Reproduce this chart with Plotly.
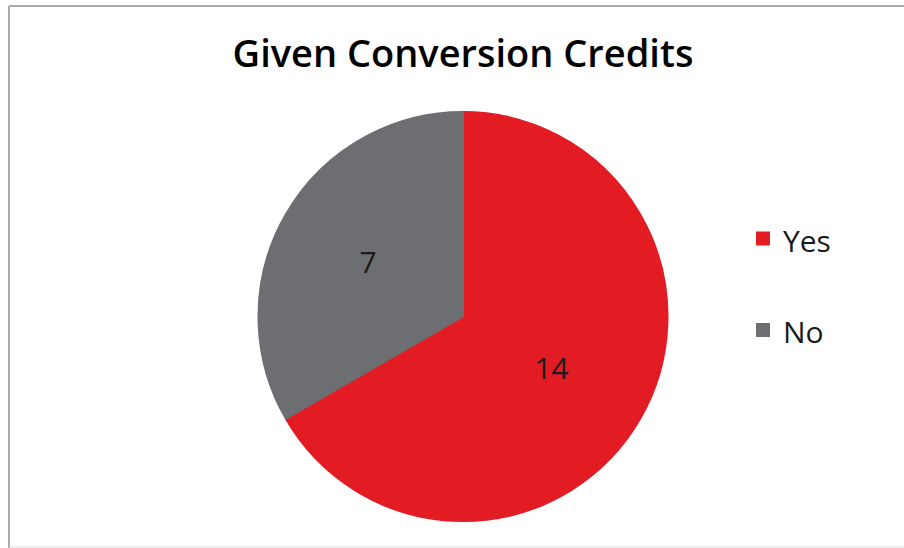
import plotly.graph_objects as go

labels = ["Yes", "No"]
values = [14, 7]
colors = ["#E31C24", "#6D6E71"]
title = "Given Conversion Credits"

W, H = 904, 548

# legend labels padded with an empty line to get the wide vertical spacing of the original
legend_labels = ["<span style='font-size:30px'>" + l + "</span><br> " for l in labels]

fig = go.Figure(
    go.Pie(
        labels=legend_labels,
        values=values,
        sort=False,
        direction="clockwise",
        rotation=0,
        marker=dict(colors=colors, line=dict(color=colors, width=2)),
        textinfo="value",
        textposition="inside",
        insidetextorientation="horizontal",
        textfont=dict(family="Open Sans", size=30, color="#1a1a1a"),
        hovertemplate="%{value}<extra></extra>",
        domain=dict(x=[258 / W, 668 / W], y=[27 / H, 436 / H]),
    )
)

fig.update_layout(
    width=W,
    height=H,
    margin=dict(l=0, r=0, t=0, b=0),
    paper_bgcolor="white",
    plot_bgcolor="white",
    title=dict(
        text=title,
        x=463 / W,
        xanchor="center",
        y=1 - 54 / H,
        yanchor="middle",
        font=dict(family="Open Sans", size=38, color="#000000", weight=600),
    ),
    legend=dict(
        x=743 / W,
        xanchor="left",
        y=1 - 210 / H,
        yanchor="top",
        valign="top",
        font=dict(family="Open Sans", size=34, color="#1a1a1a"),
        itemwidth=30,
        bgcolor="rgba(0,0,0,0)",
    ),
    showlegend=True,
    shapes=[
        dict(type="line", xref="paper", yref="paper", x0=9 / W, x1=9 / W,
             y0=0, y1=1 - 6 / H, line=dict(color="#ABABAB", width=2)),
        dict(type="line", xref="paper", yref="paper", x0=9 / W, x1=1,
             y0=1 - 6 / H, y1=1 - 6 / H, line=dict(color="#ABABAB", width=2)),
        dict(type="line", xref="paper", yref="paper", x0=9 / W, x1=1,
             y0=1 / H, y1=1 / H, line=dict(color="#DDDDDD", width=1)),
    ],
)

fig.write_html(
    "out.html",
    config={"displayModeBar": False},
    post_script="document.body.style.margin='0';document.body.style.overflow='hidden';",
)
